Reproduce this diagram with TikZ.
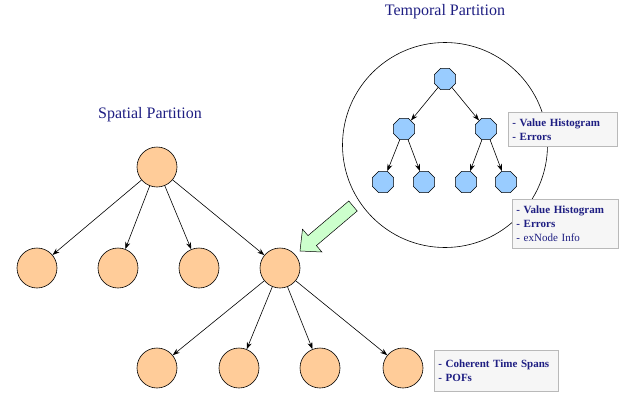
\documentclass[tikz,border=0pt]{standalone}
\usepackage{fontspec}
\setmainfont{Liberation Serif}
\usetikzlibrary{shapes.geometric,arrows.meta}
\definecolor{navy}{RGB}{30,30,130}
\definecolor{peach}{RGB}{255,204,153}
\definecolor{skyb}{RGB}{153,204,255}
\definecolor{lgreen}{RGB}{204,255,204}
\definecolor{boxfill}{RGB}{246,246,246}
\definecolor{boxline}{RGB}{185,185,185}
\begin{document}
\begin{tikzpicture}[x=1pt,y=-1pt,
  snode/.style={circle,draw=black,fill=peach,line width=0.6pt,minimum size=40pt,inner sep=0pt},
  tnode/.style={regular polygon,regular polygon sides=8,draw=black,fill=skyb,line width=0.6pt,minimum size=23pt,inner sep=0pt},
  edge/.style={-{Stealth[length=7pt,width=5pt]},line width=0.6pt},
  title/.style={text=navy,font=\fontsize{16}{18}\selectfont},
  lbl/.style={draw=boxline,fill=boxfill,line width=0.8pt,anchor=north west,align=left,inner xsep=4pt,text=navy,font=\fontsize{11}{14}\selectfont}]
\useasboundingbox (0,0) rectangle (622,394);
% titles
\node[title] (tt) at (445,12) {Temporal Partition};
\node[title] (st) at (150,115) {Spatial Partition};
% temporal circle
\node[circle,draw=black,line width=0.6pt,minimum size=205pt,inner sep=0pt] (tc) at (445,145) {};
% temporal tree
\node[tnode] (t0) at (445,79) {};
\node[tnode] (t1) at (404,129) {};
\node[tnode] (t2) at (486,129) {};
\node[tnode] (t3) at (383,182) {};
\node[tnode] (t4) at (424,182) {};
\node[tnode] (t5) at (466,182) {};
\node[tnode] (t6) at (506,182) {};
\draw[edge] (t0) -- (t1);
\draw[edge] (t0) -- (t2);
\draw[edge] (t1) -- (t3);
\draw[edge] (t1) -- (t4);
\draw[edge] (t2) -- (t5);
\draw[edge] (t2) -- (t6);
% spatial tree
\node[snode] (s0) at (157,167) {};
\node[snode] (s1) at (37,268) {};
\node[snode] (s2) at (118,268) {};
\node[snode] (s3) at (199,268) {};
\node[snode] (s4) at (280,268) {};
\node[snode] (s5) at (157,368) {};
\node[snode] (s6) at (239,368) {};
\node[snode] (s7) at (320,368) {};
\node[snode] (s8) at (403,368) {};
\foreach \c in {s1,s2,s3,s4} \draw[edge] (s0) -- (\c);
\foreach \c in {s5,s6,s7,s8} \draw[edge] (s4) -- (\c);
% green arrow
\draw[fill=lgreen,line width=0.5pt,line join=miter] (300,251) -- (321.9,252.0) -- (316.4,245.6) -- (357.2,211.0) -- (348.8,201.0) -- (308.0,235.6) -- (302.5,229.2) -- cycle;
% label boxes
\node[lbl,text width=101pt,minimum height=34pt] (l1) at (508,112) {\textbf{- Value Histogram}\\\textbf{- Errors}};
\node[lbl,text width=98pt,minimum height=49pt] (l2) at (512,199) {\textbf{- Value Histogram}\\\textbf{- Errors}\\- exNode Info};
\node[lbl,text width=116pt,minimum height=41pt] (l3) at (434,350) {\textbf{- Coherent Time Spans}\\\textbf{- POFs}};
\end{tikzpicture}
\end{document}
